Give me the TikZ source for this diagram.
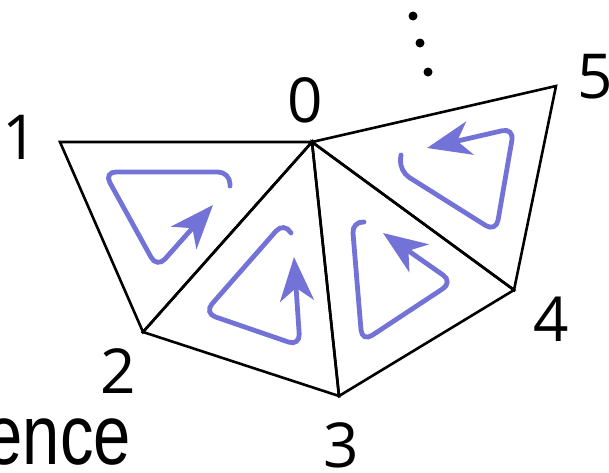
\documentclass[tikz,border=0pt]{standalone}
\usepackage{fontspec}
\setmainfont{Open Sans}
\newfontfamily\wordfont{Liberation Sans}
\usetikzlibrary{arrows.meta}

\definecolor{loopblue}{RGB}{115,115,215}

\begin{document}
\begin{tikzpicture}[
  x=1pt, y=-1pt,
  edge/.style={line width=2.6pt, line join=miter},
  spin/.style={draw=loopblue, line width=4.8pt, line cap=round, rounded corners=12pt,
    -{Stealth[length=44pt, width=34pt, inset=13pt]}},
  vlabel/.style={inner sep=0pt, font=\fontsize{62}{62}\selectfont},
  dot/.style={fill=black},
]
  \useasboundingbox (0,0) rectangle (609,472);

  \coordinate (v0) at (312,142);
  \coordinate (v1) at (60,142);
  \coordinate (v2) at (143,332);
  \coordinate (v3) at (339,396);
  \coordinate (v4) at (514,290);
  \coordinate (v5) at (556,86);

  % fan of triangles round vertex 0
  \draw[edge] (v1) -- (v0) -- (v2) -- cycle;
  \draw[edge] (v2) -- (v0) -- (v3) -- cycle;
  \draw[edge] (v3) -- (v0) -- (v4) -- cycle;
  \draw[edge] (v4) -- (v0) -- (v5) -- cycle;

  % orientation of each face
  \draw[spin] (230,186) -- (230,172) -- (104,172) -- (157,268) -- (213,205);
  \draw[spin] (291,233) -- (284,222) -- (204,313) -- (300,346) -- (294,257);
  \draw[spin] (364,222) -- (352,221) -- (362,342) -- (453,282) -- (383,233);
  \draw[spin] (401,155) -- (399,171) -- (496,232) -- (514,128) -- (427,148);

  \node[vlabel] (n0) at (305.5,100) {0};
  \node[vlabel] (n1) at (20,137.5) {1};
  \node[vlabel] (n2) at (118,371.5) {2};
  \node[vlabel] (n3) at (341.5,445) {3};
  \node[vlabel] (n4) at (551,319.5) {4};
  \node[vlabel] (n5) at (595,76.5) {5};

  \fill[dot] (413,16) circle (4.5pt);
  \fill[dot] (420,43) circle (4.5pt);
  \fill[dot] (428,72) circle (4.5pt);

  \node[inner sep=0pt, anchor=base east, font=\wordfont\fontsize{67}{67}\selectfont] (word)
    at (131,464) {\scalebox{1}[1.27]{ence}};
\end{tikzpicture}
\end{document}
